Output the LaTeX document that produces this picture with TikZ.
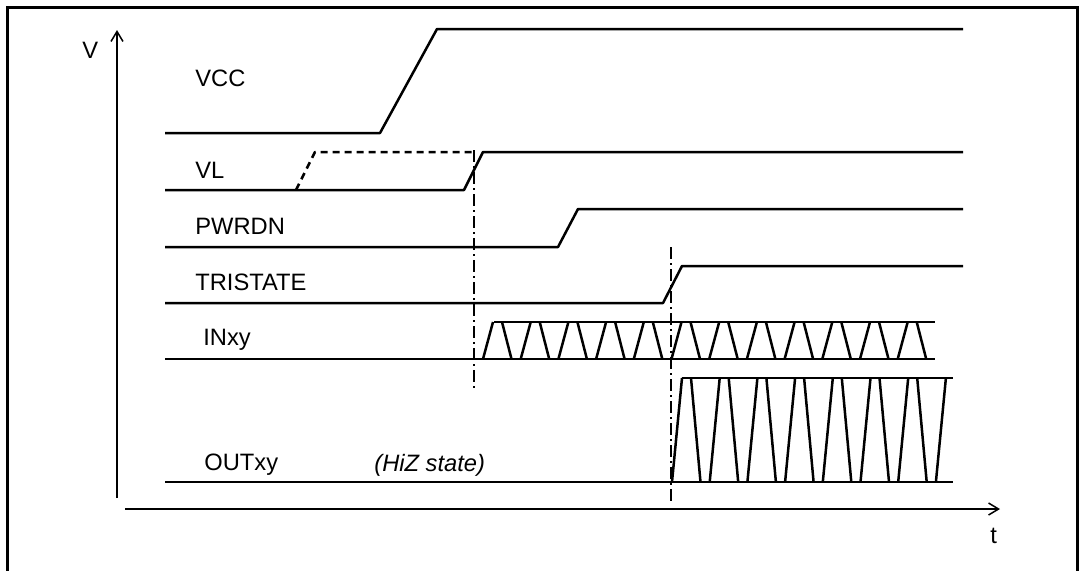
\documentclass[tikz,border=0pt]{standalone}
\usepackage{fontspec}
\setmainfont{Liberation Sans}
\usetikzlibrary{arrows.meta}
\begin{document}
\begin{tikzpicture}[x=0.5pt,y=-0.5pt,
  sig/.style={line width=1.25pt,line join=round},
  axis/.style={line width=0.75pt,-{Straight Barb[length=5pt,width=6pt,line width=0.75pt]}},
  marker/.style={line width=0.75pt,dash pattern=on 6pt off 2pt on 1pt off 2pt},
  lbl/.style={anchor=west,inner sep=0pt,font=\fontsize{11.85}{14}\selectfont}]
\useasboundingbox (0,0) rectangle (1082,570);
% frame
\draw[line width=1.5pt] (7,580) -- (7,7) -- (1077,7) -- (1077,580);
% axes
\coordinate (vbot) at (117,498);
\coordinate (vtop) at (117,30);
\coordinate (tl) at (125,509);
\coordinate (tr) at (1000,509);
\draw[axis] (vbot) -- (vtop);
\draw[axis] (tl) -- (tr);
\node[lbl] (V) at (82,50) {V};
\node[lbl] (t) at (990,536) {t};
% labels
\node[lbl] (lvcc) at (195,78) {VCC};
\node[lbl] (lvl) at (195,170) {VL};
\node[lbl] (lpwr) at (195,226) {PWRDN};
\node[lbl] (ltri) at (195,282) {TRISTATE};
\node[lbl] (lin) at (203,340) {INxy};
\node[lbl] (lout) at (204,465) {OUTxy};
\node[lbl] (lhiz) at (374,465) {\itshape (HiZ state)};
% VCC
\draw[sig] (165,133) -- (380,133) -- (437,29) -- (963,29);
% VL
\draw[sig,dash pattern=on 3.5pt off 2.5pt] (296,190) -- (315,152) -- (474,152);
\draw[sig] (165,190) -- (464,190) -- (483,152) -- (963,152);
% PWRDN
\draw[sig] (165,247) -- (558,247) -- (578,209) -- (963,209);
% TRISTATE
\draw[sig] (165,303) -- (663,303) -- (682,266) -- (963,266);
% INxy
\draw[sig] (165,359) -- (935,359);
\draw[sig] (494,322) -- (935,322);
\foreach \k in {0,...,11}{
  \pgfmathsetmacro\b{483+37.7*\k}
  \draw[sig] (\b,359) -- (\b+10,322);
  \draw[sig] (\b+19,322) -- (\b+28.5,359);
}
% OUTxy
\draw[sig] (165,482) -- (953,482);
\draw[sig] (682,378) -- (953,378);
\foreach \k in {0,...,7}{
  \pgfmathsetmacro\b{672+37.7*\k}
  \draw[sig] (\b,482) -- (\b+10,378);
}
\foreach \k in {0,...,6}{
  \pgfmathsetmacro\b{672+37.7*\k}
  \draw[sig] (\b+19,378) -- (\b+28.5,482);
}
% markers
\coordinate (m1a) at (474,150);
\coordinate (m1b) at (474,388);
\coordinate (m2a) at (671,247);
\coordinate (m2b) at (671,501);
\draw[marker] (m1a) -- (m1b);
\draw[marker] (m2a) -- (m2b);
\end{tikzpicture}
\end{document}
